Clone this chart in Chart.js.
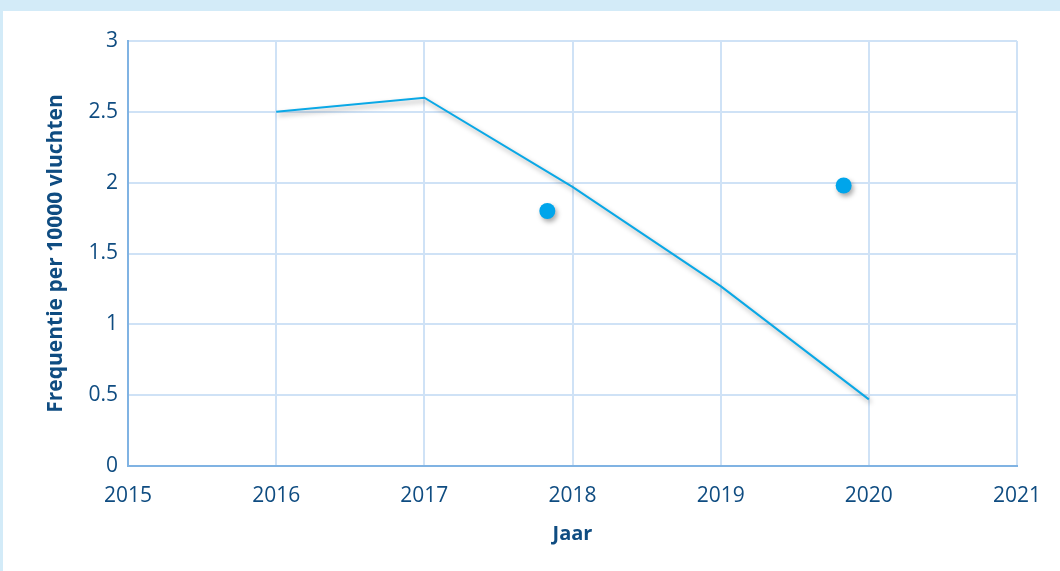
<!DOCTYPE html>
<html>
<head>
<meta charset="utf-8">
<script src="https://cdn.jsdelivr.net/npm/chart.js@4/dist/chart.umd.min.js"></script>
<style>
  html, body { margin: 0; padding: 0; background: #d3ebf8; overflow: hidden; }
  #wrap { position: absolute; left: 3px; top: 11px; width: 1057px; height: 560px; background: #fff; }
</style>
</head>
<body>
<div id="wrap"><canvas id="grafiek" width="1057" height="560"></canvas></div>
<script>
// jaarlijkse frequentie (lijn)
const jaren = [2016, 2017, 2018, 2019, 2020];
const frequentie = [2.5, 2.6, 1.97, 1.27, 0.47];
// losse metingen (punten)
const puntJaren = [2017.83, 2019.83];
const puntFrequentie = [1.8, 1.98];

const tekstKleur = '#0f4c81';
const rasterKleur = '#cfe2f6';
const asKleur = '#80b3e3';

// zachte schaduw onder lijn en punten
const schaduw = {
  id: 'schaduw',
  beforeDatasetDraw(chart) {
    const ctx = chart.ctx;
    ctx.save();
    ctx.shadowColor = 'rgba(0,0,0,0.35)';
    ctx.shadowBlur = 5;
    ctx.shadowOffsetX = 2;
    ctx.shadowOffsetY = 3;
  },
  afterDatasetDraw(chart) {
    chart.ctx.restore();
  }
};

new Chart(document.getElementById('grafiek'), {
  type: 'scatter',
  data: {
    datasets: [{
      data: jaren.map((j, i) => ({ x: j, y: frequentie[i] })),
      showLine: true,
      borderColor: '#0aa8e6',
      borderWidth: 2,
      pointRadius: 0,
      fill: false
    }, {
      data: puntJaren.map((j, i) => ({ x: j, y: puntFrequentie[i] })),
      showLine: false,
      backgroundColor: '#00a5eb',
      borderColor: '#00a5eb',
      pointRadius: 8,
      borderWidth: 0
    }]
  },
  plugins: [schaduw],
  options: {
    responsive: false,
    animation: false,
    layout: { padding: { left: 0, top: 30, right: 43, bottom: 0 } },
    plugins: {
      legend: { display: false },
      tooltip: { enabled: false }
    },
    scales: {
      x: {
        type: 'linear',
        min: 2015,
        max: 2021,
        afterFit(s) { s.height = 105; },
        ticks: {
          stepSize: 1,
          padding: 17,
          color: tekstKleur,
          font: { family: 'Open Sans', size: 21 },
          callback: v => String(v)
        },
        grid: { color: rasterKleur, lineWidth: 2, drawTicks: false },
        border: { color: asKleur, width: 2 },
        title: {
          display: true,
          text: 'Jaar',
          color: tekstKleur,
          font: { family: 'Open Sans', size: 20, weight: 'bold' },
          padding: { top: 0, bottom: 25 }
        }
      },
      y: {
        min: 0,
        max: 3,
        afterFit(s) { s.width = 125; },
        ticks: {
          stepSize: 0.5,
          padding: 10,
          color: tekstKleur,
          font: { family: 'Open Sans', size: 21 },
          callback: v => String(v)
        },
        grid: { color: rasterKleur, lineWidth: 2, drawTicks: false },
        border: { color: asKleur, width: 2 },
        title: {
          display: true,
          text: 'Frequentie per 10000 vluchten',
          color: tekstKleur,
          font: { family: 'Open Sans', size: 21, weight: 'bold' },
          padding: { top: 40, bottom: 0 }
        }
      }
    }
  }
});
</script>
</body>
</html>
